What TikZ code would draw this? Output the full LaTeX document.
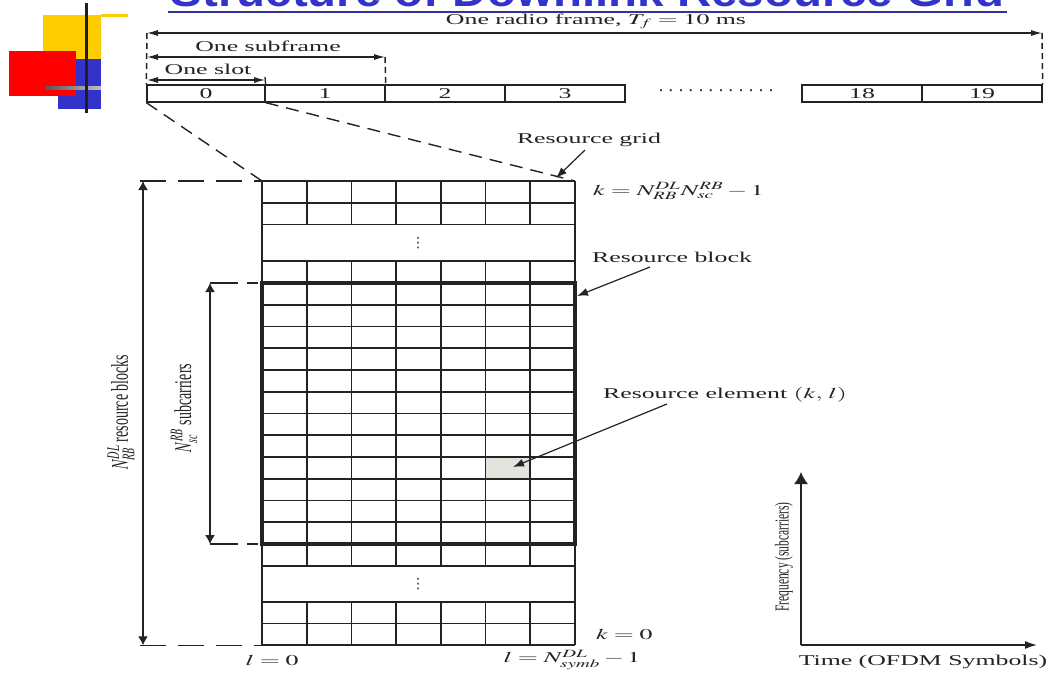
\documentclass[tikz,border=0pt]{standalone}
\usepackage{mathptmx}
\usepackage{fontspec}
\setmainfont{Liberation Serif}
\newfontfamily\titlefont{Liberation Sans}
\newfontfamily\dejavu{DejaVu Sans}
\usetikzlibrary{arrows.meta}
\definecolor{ttl}{RGB}{51,51,204}
\definecolor{navy}{RGB}{51,51,153}
\definecolor{ink}{RGB}{35,35,35}
\definecolor{syel}{RGB}{255,204,0}
\definecolor{sblu}{RGB}{51,51,204}
\definecolor{sred}{RGB}{255,0,0}
\definecolor{regray}{RGB}{228,228,222}
\newcommand\hsc[1]{\scalebox{1.72}[1]{#1}}
\newcommand\vsc[1]{\scalebox{1.72}[1]{\rotatebox{90}{#1}}}
\begin{document}
\begin{tikzpicture}[x=1pt,y=-1pt,
  lbl/.style={inner sep=0pt, text=ink, font=\fontsize{15}{18}\selectfont},
  slotbox/.style={draw=ink, line width=1.3pt, inner sep=0pt, minimum height=17pt, text=ink, font=\fontsize{15}{18}\selectfont},
  dimh/.style={draw=ink, line width=1.1pt, {Latex[length=11pt,width=6pt]}-{Latex[length=11pt,width=6pt]}},
  dimv/.style={draw=ink, line width=1.3pt, {Latex[length=9pt,width=10pt]}-{Latex[length=9pt,width=10pt]}},
  vdash/.style={draw=ink, line width=1.5pt, dash pattern=on 6pt off 4pt},
  zoomdash/.style={draw=ink, line width=1.4pt, dash pattern=on 13pt off 8pt},
  extdash/.style={draw=ink, line width=1.2pt, dash pattern=on 26pt off 12pt},
  gridline/.style={draw=ink, line width=1.7pt},
  callout/.style={draw=ink, line width=1.2pt, -{Latex[length=11pt,width=8pt]}},
  vdotsnode/.style={inner sep=0pt, text=ink, font=\dejavu\fontsize{14}{16}\selectfont},
]
\useasboundingbox (0,0) rectangle (1054,673);
\fill[white] (0,0) rectangle (1054,673);

% slide decoration
\fill[syel] (43,15) rectangle (101,59);
\fill[syel] (101,14) rectangle (128,16.5);
\fill[sblu] (58,59) rectangle (101,109);
\fill[sred] (9,51) rectangle (76,96);
\shade[left color=black!65, right color=black!25] (46,86.5) rectangle (101,89.5);
\fill[black!88] (84.5,3) rectangle (88,113);

% title
\node[anchor=base, inner sep=0pt, text=ttl, font=\titlefont\bfseries\fontsize{42}{48}\selectfont] (title) at (587.5,6) {\scalebox{1.13}[1]{Structure of Downlink Resource Grid}};
\draw[navy, line width=2.2pt] (168,12) -- (1007,12);

% slot row
\node[slotbox, minimum width=118pt] (s0) at (206,93.5) {\hsc{0}};
\node[slotbox, minimum width=120pt] (s1) at (325,93.5) {\hsc{1}};
\node[slotbox, minimum width=120pt] (s2) at (445,93.5) {\hsc{2}};
\node[slotbox, minimum width=120pt] (s3) at (565,93.5) {\hsc{3}};
\node[slotbox, minimum width=120pt] (s18) at (862,93.5) {\hsc{18}};
\node[slotbox, minimum width=120pt] (s19) at (982,93.5) {\hsc{19}};
\node[inner sep=0pt, text=ink, font=\fontsize{18}{20}\selectfont] (sdots) at (716,91) {.\kern5.5pt.\kern5.5pt.\kern5.5pt.\kern5.5pt.\kern5.5pt.\kern5.5pt.\kern5.5pt.\kern5.5pt.\kern5.5pt.\kern5.5pt.\kern5.5pt.};

% frame / subframe / slot dimensions
\coordinate (fl) at (147,33);
\coordinate (fr) at (1042,33);
\coordinate (sfl) at (147,57);
\coordinate (sfr) at (385,57);
\coordinate (sll) at (147,80);
\coordinate (slr) at (265,80);
\coordinate (sltop) at (265,77);
\draw[vdash] (fl) -- (s0.north west);
\draw[vdash] (fr) -- (s19.north east);
\draw[vdash] (sfr) -- (s1.north east);
\draw[ink, line width=1.3pt] (sltop) -- (s0.north east);
\draw[dimh] (fl) -- (fr);
\draw[dimh] (sfl) -- (sfr);
\draw[dimh] (sll) -- (slr);
\node[lbl] (frame) at (596,21.5) {\hsc{One radio frame, $T_f = 10$ ms}};
\node[lbl] (subf) at (268,46) {\hsc{One subframe}};
\node[lbl] (slot) at (208,69) {\hsc{One slot}};

% resource grid
\coordinate (gnw) at (262,181);
\coordinate (gne) at (575,181);
\coordinate (gsw) at (262,645.25);
\coordinate (gse) at (575,645.25);
\fill[regray] (485.57,457) rectangle (530.29,478.75);
\foreach \y in {181,202.75,224.5,261.25,565.75,601.75,623.5,645.25}
  \draw[gridline] (262,\y) -- (575,\y);
\foreach \j in {1,...,11}
  \draw[gridline] (262,{283+\j*21.75}) -- (575,{283+\j*21.75});
\foreach \i in {1,...,6} {
  \draw[gridline] ({262+\i*44.714},181) -- ({262+\i*44.714},224.5);
  \draw[gridline] ({262+\i*44.714},261.25) -- ({262+\i*44.714},565.75);
  \draw[gridline] ({262+\i*44.714},601.75) -- ({262+\i*44.714},645.25);
}
\draw[gridline] (gnw) -- (gsw);
\draw[gridline] (gne) -- (gse);
\coordinate (rbnw) at (262,283);
\coordinate (rbse) at (575,544);
\draw[ink, line width=3.5pt] (rbnw) rectangle (rbse);
\node[vdotsnode] (vd1) at (418,243) {⋮};
\node[vdotsnode] (vd2) at (418,584) {⋮};

% zoom lines
\draw[zoomdash] (s0.south west) -- (gnw);
\draw[zoomdash] (s0.south east) -- (gne);

% vertical dimensions
\coordinate (bt) at (143,181);
\coordinate (bb) at (143,645.25);
\coordinate (btx) at (140,181);
\coordinate (bbx) at (140,645.25);
\draw[extdash] (btx) -- (gnw);
\draw[extdash] (bbx) -- (gsw);
\draw[dimv] (bt) -- (bb);
\coordinate (st) at (210,283);
\coordinate (sb) at (210,544);
\coordinate (ste) at (258,283);
\coordinate (sbe) at (258,544);
\draw[ink, line width=1.2pt, dash pattern=on 28pt off 9pt] (st) -- (ste);
\draw[ink, line width=1.2pt, dash pattern=on 28pt off 9pt] (sb) -- (sbe);
\draw[dimv] (st) -- (sb);
\node[inner sep=0pt, text=ink, font=\fontsize{14}{16}\selectfont] (nrb) at (121,412) {\vsc{$N_{RB}^{DL}$ resource blocks}};
\node[inner sep=0pt, text=ink, font=\fontsize{14}{16}\selectfont] (nsc) at (184,408) {\vsc{$N_{sc}^{RB}$ subcarriers}};

% labels and callouts
\node[lbl] (rgrid) at (589,140) {\hsc{Resource grid}};
\node[lbl, anchor=west] (ktop) at (593,191) {\hsc{$k = N_{RB}^{DL} N_{sc}^{RB} - 1$}};
\node[lbl] (rblock) at (672,257) {\hsc{Resource block}};
\node[lbl] (relem) at (725,395) {\hsc{Resource element $(k,\,l)$}};
\node[lbl, anchor=west] (kbot) at (596,634) {\hsc{$k = 0$}};
\node[lbl] (lzero) at (272,660) {\hsc{$l = 0$}};
\node[lbl] (lmax) at (572,660) {\hsc{$l = N_{symb}^{DL} - 1$}};
\coordinate (rgs) at (585,150);
\coordinate (rgt) at (556,178);
\coordinate (rbs) at (650,267);
\coordinate (rbt) at (577,296);
\coordinate (res) at (667,404);
\coordinate (ret) at (513,467);
\draw[callout] (rgs) -- (rgt);
\draw[callout] (rbs) -- (rbt);
\draw[callout] (res) -- (ret);

% axes
\coordinate (ax0) at (801,645);
\coordinate (axf) at (801,472);
\coordinate (axt) at (1037,645);
\draw[ink, line width=1.5pt, -{Latex[length=12pt,width=14pt]}] (ax0) -- (axf);
\draw[ink, line width=1.5pt, -{Latex[length=12pt,width=8pt]}] (ax0) -- (axt);
\node[inner sep=0pt, text=ink, font=\fontsize{11.5}{13}\selectfont] (freq) at (784,557) {\vsc{Frequency (subcarriers)}};
\node[lbl] (time) at (923,662) {\hsc{Time (OFDM Symbols)}};
\end{tikzpicture}
\end{document}
